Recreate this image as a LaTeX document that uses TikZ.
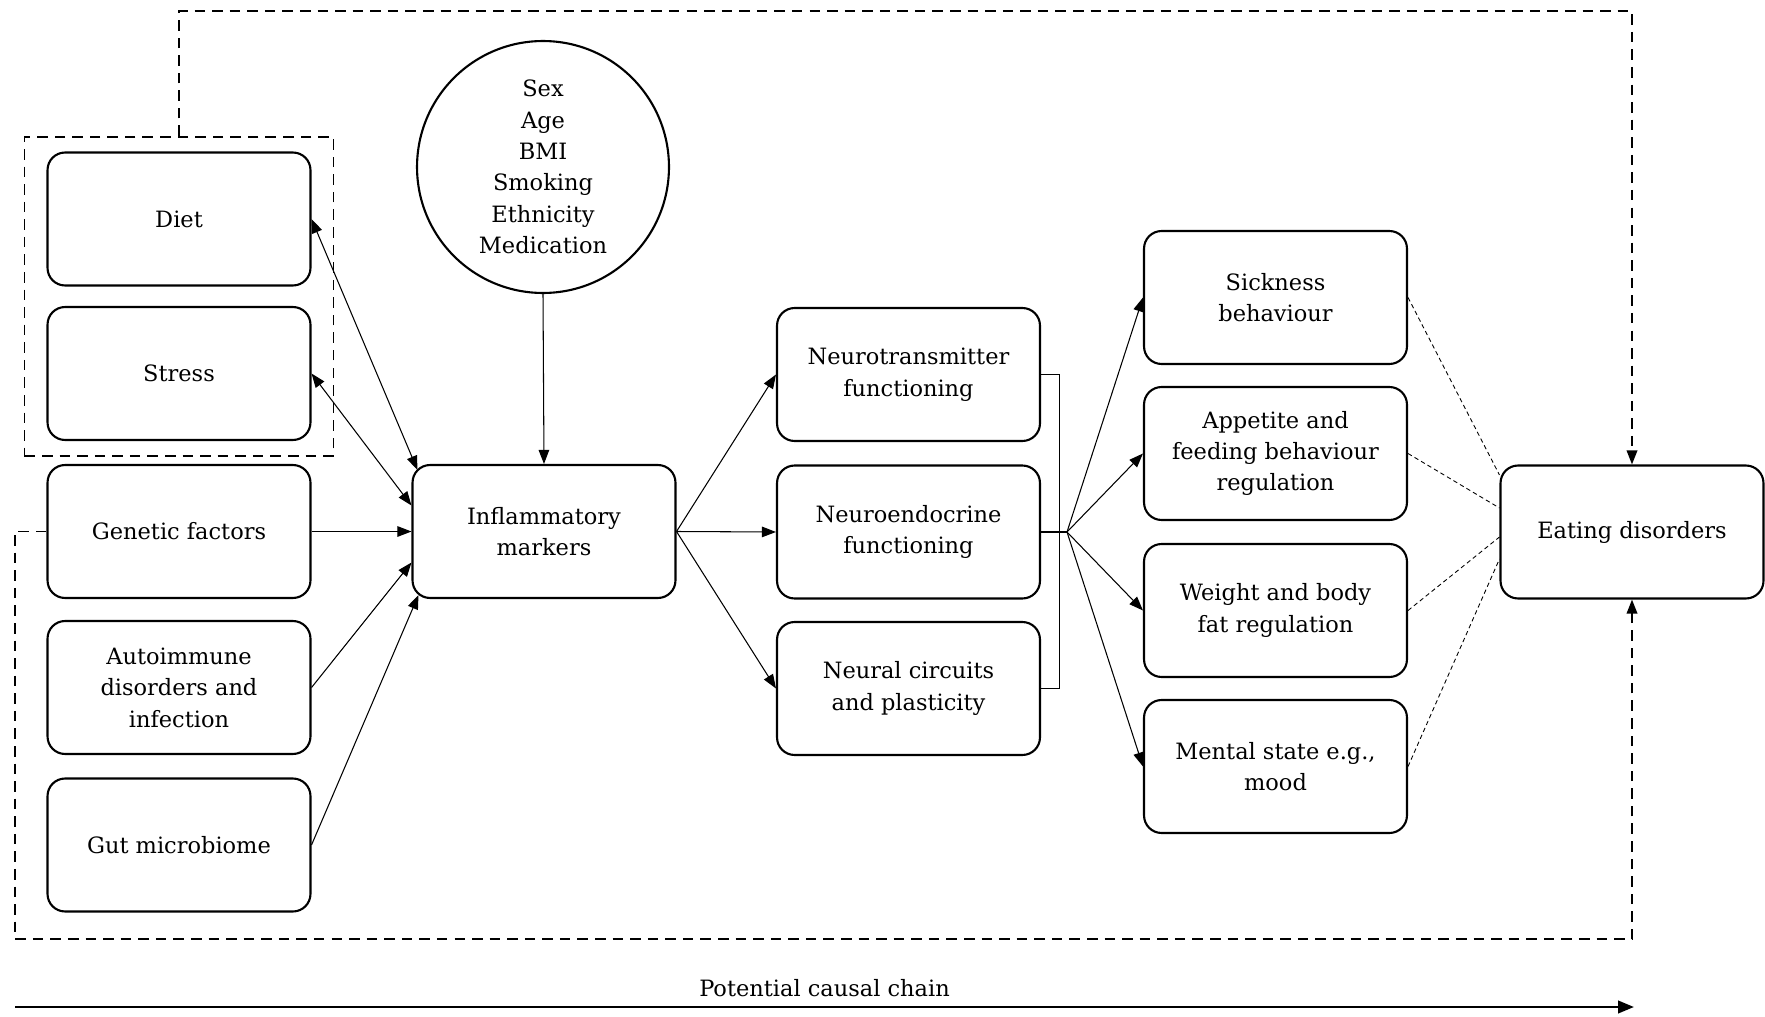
\documentclass[tikz,border=0pt]{standalone}
\usepackage{fontspec}
\setmainfont{DejaVu Serif}
\usetikzlibrary{positioning,arrows.meta,fit}

\begin{document}
\begin{tikzpicture}[
    x=0.02cm, y=-0.02cm,
    every node/.style={font=\fontsize{12.8}{17.9}\selectfont},
    box/.style={rectangle, draw, rounded corners=10pt, line width=1.2pt, minimum width=5.26cm, minimum height=2.66cm, align=center, inner sep=2pt},
    moderator/.style={circle, draw, line width=1.2pt, minimum size=5.04cm, align=center, inner sep=0pt},
    groupbox/.style={draw, line width=1.1pt, dash pattern=on 6pt off 4pt, inner xsep=0.44cm, inner ysep=0.29cm},
    link/.style={draw, line width=0.6pt},
    arrow/.style={link, -{Triangle[length=8pt,width=6pt]}},
    biarrow/.style={link, {Triangle[length=8pt,width=6pt]}-{Triangle[length=8pt,width=6pt]}},
    assoc/.style={draw, line width=0.5pt, dash pattern=on 2.5pt off 1.8pt},
    feedback/.style={draw, line width=1.1pt, dash pattern=on 6pt off 4pt, -{Triangle[length=8pt,width=6pt]}},
    chain/.style={draw, line width=1.5pt, -{Triangle[length=9pt,width=7pt]}}
]
\useasboundingbox (0,0) rectangle (1765,1017);

% Define node positions
\node[box] (diet) at (179, 219) {Diet};
\node[box] (stress) at (179, 373.5) {Stress};
\node[box] (gen) at (179, 531.5) {Genetic factors};
\node[box] (auto) at (179, 687.5) {Autoimmune\\disorders and\\infection};
\node[box] (gut) at (179, 845) {Gut microbiome};
\node[groupbox, fit=(diet)(stress)] (grp) {};

\node[moderator] (mod) at (543, 167) {Sex\\Age\\BMI\\Smoking\\Ethnicity\\Medication};
\node[box] (infl) at (544, 531.5) {Inflammatory\\markers};

\node[box] (nt) at (908.5, 374.5) {Neurotransmitter\\functioning};
\node[box] (ne) at (908.5, 532) {Neuroendocrine\\functioning};
\node[box] (nc) at (908.5, 688.5) {Neural circuits\\and plasticity};

\node[box] (sick) at (1275.5, 297.5) {Sickness\\behaviour};
\node[box] (app) at (1275.5, 453.5) {Appetite and\\feeding behaviour\\regulation};
\node[box] (wt) at (1275.5, 610.5) {Weight and body\\fat regulation};
\node[box] (ms) at (1275.5, 766.5) {Mental state e.g.,\\mood};

\node[box] (ED) at (1632, 532) {Eating disorders};

\coordinate (hub) at (1067, 532);
\coordinate (topturn) at (179, 11);
\coordinate (botturn) at (15, 939);
\coordinate (chainstart) at (15, 1007);
\coordinate (chainend) at (1634, 1007);

% Risk factors into inflammation
\draw[biarrow] (diet.east) -- ([shift={(6,6)}]infl.north west);
\draw[biarrow] (stress.east) -- ([shift={(0,-26)}]infl.west);
\draw[arrow] (gen.east) -- (infl.west);
\draw[arrow] (auto.east) -- ([shift={(0,31)}]infl.west);
\draw[arrow] (gut.east) -- ([shift={(7,-4)}]infl.south west);
\draw[arrow] (mod.south) -- (infl.north);

% Inflammation to brain mechanisms
\draw[arrow] (infl.east) -- (nt.west);
\draw[arrow] (infl.east) -- (ne.west);
\draw[arrow] (infl.east) -- (nc.west);

% Bracket and fan out
\draw[link] (nt.east) -- ++(18,0) |- (nc.east);
\draw[link] (ne.east) -- (hub);
\draw[arrow] (hub) -- (sick.west);
\draw[arrow] (hub) -- (app.west);
\draw[arrow] (hub) -- (wt.west);
\draw[arrow] (hub) -- (ms.west);

% Links to eating disorders
\draw[assoc] (sick.east) -- ([shift={(0,-57)}]ED.west);
\draw[assoc] (app.east) -- ([shift={(0,-24)}]ED.west);
\draw[assoc] (wt.east) -- ([shift={(0,5)}]ED.west);
\draw[assoc] (ms.east) -- ([shift={(0,27)}]ED.west);

% Direct paths
\draw[feedback] (grp.north) -- (topturn) -| (ED.north);
\draw[feedback] (gen.west) -| (botturn) -| (ED.south);

% Causal chain
\draw[chain] (chainstart) -- (chainend) node[midway, above=0.17cm, inner sep=0pt] (chainlbl) {Potential causal chain};

\end{tikzpicture}
\end{document}
